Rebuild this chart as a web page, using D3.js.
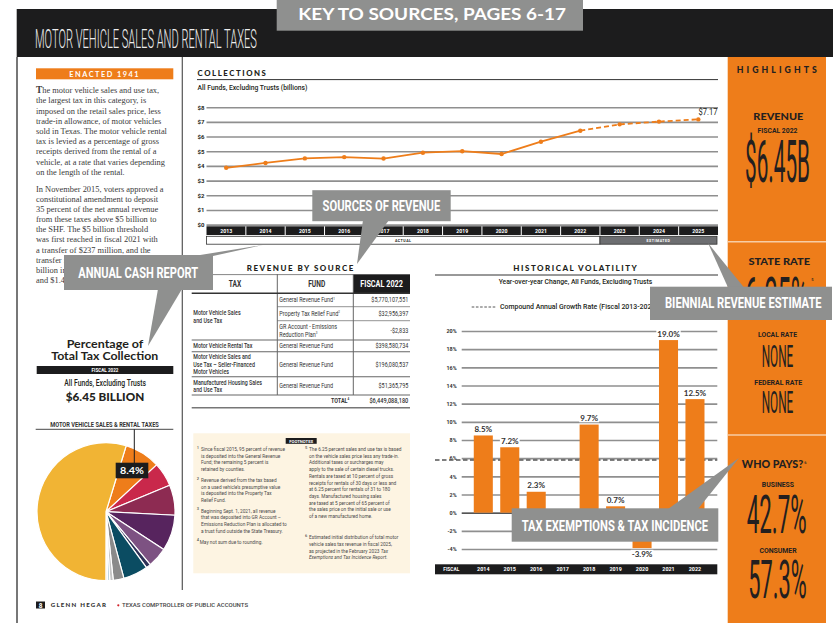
<!DOCTYPE html>
<html>
<head>
<meta charset="utf-8">
<script src="https://cdn.jsdelivr.net/npm/d3@7"></script>
<style>
  body { margin: 0; background: #fff; }
  svg { display: block; }
</style>
</head>
<body>
<div id="page"></div>
<script>
var W = 833, H = 623;
var orange = "#EE7D1A", ink = "#231F20", grey = "#8F908F", gridGrey = "#8f8f8f";

// collections, all funds excluding trusts (billions)
var collYears = ["2013", "2014", "2015", "2016", "2017", "2018", "2019", "2020", "2021", "2022", "2023", "2024", "2025"];
var collValues = [3.87, 4.20, 4.51, 4.60, 4.50, 4.90, 5.00, 4.81, 5.65, 6.40, 6.83, 7.02, 7.17];
var collTicks = [0, 1, 2, 3, 4, 5, 6, 7, 8];
var firstEstimate = "2023";

// historical volatility, year-over-year change (%)
var volYears = ["2014", "2015", "2016", "2017", "2018", "2019", "2020", "2021", "2022"];
var volValues = [8.5, 7.2, 2.3, -1.5, 9.7, 0.7, -3.9, 19.0, 12.5];
var volTicks = [-4, -2, 0, 2, 4, 6, 8, 10, 12, 14, 16, 18, 20];
var cagr = 5.8;

// revenue by source table
var taxNames = [["Motor Vehicle Sales", "and Use Tax"], ["Motor Vehicle Rental Tax"],
  ["Motor Vehicle Sales and", "Use Tax \u2013 Seller-Financed", "Motor Vehicles"],
  ["Manufactured Housing Sales", "and Use Tax"]];
var taxSpan = [3, 1, 1, 1];
var fundNames = [["General Revenue Fund^1"], ["Property Tax Relief Fund^2"],
  ["GR Account - Emissions", "Reduction Plan^3"], ["General Revenue Fund"],
  ["General Revenue Fund"], ["General Revenue Fund"]];
var fundValues = ["$5,770,107,551", "$32,956,397", "-$2,833", "$398,580,734", "$196,080,537", "$51,365,795"];
var totalValue = "$6,449,088,180";

// share of total tax collection, fiscal 2022 (%)
var pieShares = [8.4, 5.6, 7.1, 8.4, 4.7, 1.1, 5.8, 2.5, 0.8, 0.5, 0.4, 54.7];
var pieColors = ["#EE7D1A", "#C9284B", "#8D2B52", "#57245E", "#7D5282", "#2E3258", "#0B4C62",
  "#8A8A8A", "#C4C4C4", "#A9C6D6", "#DADADA", "#F1B434"];

// highlights
var highlights = {revenue: "$6.45B", stateRate: "6.25%", local: "NONE", federal: "NONE", business: "42.7%", consumer: "57.3%"};

var svg = d3.select("#page").append("svg")
  .attr("width", W).attr("height", H)
  .style("background", "#fff");

// small text helper; "^" marks a superscript tail, k squeezes horizontally, w fits a width
function label(g, x, y, str, o) {
  o = o || {};
  var size = o.size || 7;
  var t = g.append("text")
    .attr("x", x).attr("y", y)
    .attr("text-anchor", o.anchor || "start")
    .attr("fill", o.fill || ink)
    .style("font-family", o.font || "Roboto, sans-serif")
    .style("font-size", size + "px")
    .style("font-weight", o.weight || 400);
  if (o.italic) t.style("font-style", "italic");
  if (o.ls) t.style("letter-spacing", o.ls + "px");
  var parts = str.split("^");
  t.append("tspan").text(parts[0]);
  if (parts.length > 1) {
    t.append("tspan").attr("dy", -size * 0.38).style("font-size", (size * 0.55) + "px").text(parts[1]);
  }
  var k = o.k;
  if (o.w) k = o.w / t.node().getComputedTextLength();
  if (k) t.attr("x", 0).attr("y", 0).attr("transform", `translate(${x},${y}) scale(${k},1)`);
  return t;
}

// ---------- page frame ----------
svg.append("rect").attr("x", 16.7).attr("y", 9).attr("width", W - 16.7).attr("height", 48).attr("fill", "#1c1c1d");
label(svg, 35, 48, "MOTOR VEHICLE SALES AND RENTAL TAXES", {size: 25, w: 222, fill: "#EDEDED", weight: 300});

svg.append("line").attr("x1", 17).attr("x2", 17).attr("y1", 57).attr("y2", H).attr("stroke", "#4a4a4a").attr("stroke-width", 1.5);
svg.append("line").attr("x1", 182.3).attr("x2", 182.3).attr("y1", 57).attr("y2", 590).attr("stroke", "#555").attr("stroke-width", 1.2);

// ---------- left column ----------
svg.append("rect").attr("x", 36).attr("y", 68.3).attr("width", 137.3).attr("height", 11).attr("fill", orange);
label(svg, 104.7, 77.3, "ENACTED 1941", {size: 7.5, weight: 700, font: "Lato, sans-serif", fill: "#fff", anchor: "middle", w: 70.7, ls: 1.5});

var para1 = ["he motor vehicle sales and use tax,", "the largest tax in this category, is",
  "imposed on the retail sales price, less", "trade-in allowance, of motor vehicles",
  "sold in Texas. The motor vehicle rental", "tax is levied as a percentage of gross",
  "receipts derived from the rental of a", "vehicle, at a rate that varies depending",
  "on the length of the rental."];
var para2 = ["In November 2015, voters approved a", "constitutional amendment to deposit",
  "35 percent of the net annual revenue", "from these taxes above $5 billion to",
  "the SHF. The $5 billion threshold", "was first reached in fiscal 2021 with",
  "a transfer of $237 million, and the", "transfer is estimated at $1.3",
  "billion in fiscal 2024", "and $1.4 billion in fiscal 2025."];

var para = svg.append("g");
var refLine;
para1.forEach(function(s, i) {
  var t = para.append("text").attr("x", 0).attr("y", 93.3 + i * 10.2)
    .attr("fill", "#3a3a3a").style("font-family", "'Liberation Serif', serif").style("font-size", "8.6px");
  if (i === 0) t.append("tspan").style("font-weight", 700).style("font-size", "9.6px").text("T");
  t.append("tspan").text(s);
  if (i === 7) refLine = t;
});
para2.forEach(function(s, i) {
  para.append("text").attr("x", 0).attr("y", 192 + i * 10.1)
    .attr("fill", "#3a3a3a").style("font-family", "'Liberation Serif', serif").style("font-size", "8.6px")
    .text(s);
});
var kPara = 129 / refLine.node().getComputedTextLength();
para.attr("transform", `translate(36,0) scale(${kPara},1)`);

// pie block
label(svg, 105, 348.3, "Percentage of", {size: 11, weight: 700, font: "Lato, sans-serif", anchor: "middle", w: 76.7});
label(svg, 104.7, 360, "Total Tax Collection", {size: 11, weight: 700, font: "Lato, sans-serif", anchor: "middle", w: 107});
svg.append("rect").attr("x", 36.7).attr("y", 366).attr("width", 136.6).attr("height", 8).attr("fill", "#1c1c1d");
label(svg, 105, 372.3, "FISCAL  2022", {size: 5, weight: 700, fill: "#fff", anchor: "middle", w: 27});
label(svg, 105.2, 386, "All Funds, Excluding Trusts", {size: 8.5, weight: 500, anchor: "middle", w: 82});
label(svg, 105, 400.7, "$6.45 BILLION", {size: 10.5, weight: 900, font: "Lato, sans-serif", anchor: "middle", w: 78.6});
label(svg, 104.5, 427.3, "MOTOR VEHICLE SALES & RENTAL TAXES", {size: 6.5, weight: 700, anchor: "middle", w: 109, fill: "#333"});
svg.append("line").attr("x1", 35.7).attr("x2", 173.3).attr("y1", 429.3).attr("y2", 429.3).attr("stroke", "#333").attr("stroke-width", 0.9);

var pieStart = 17 * Math.PI / 180;
var pie = d3.pie().sort(null).value(d => d).startAngle(pieStart).endAngle(pieStart + 2 * Math.PI);
var arc = d3.arc().innerRadius(0).outerRadius(69);
svg.append("g").attr("transform", "translate(106,511.7)")
  .selectAll("path").data(pie(pieShares)).enter().append("path")
  .attr("d", arc)
  .attr("fill", (d, i) => pieColors[i])
  .attr("stroke", "#fff").attr("stroke-width", 1.2);

svg.append("line").attr("x1", 134.3).attr("x2", 134.3).attr("y1", 429.3).attr("y2", 463).attr("stroke", "#1c1c1d").attr("stroke-width", 1);
svg.append("rect").attr("x", 115.7).attr("y", 462.7).attr("width", 32.6).attr("height", 15.6).attr("fill", "#1c1c1d");
label(svg, 132, 474.3, pieShares[0].toFixed(1) + "%", {size: 9.5, weight: 700, font: "Lato, sans-serif", fill: "#fff", anchor: "middle", w: 24});

// footer
svg.append("rect").attr("x", 36).attr("y", 601.5).attr("width", 9).attr("height", 7).attr("fill", "#1c1c1d");
label(svg, 40.5, 607.6, "8", {size: 6.5, weight: 700, fill: "#fff", anchor: "middle"});
label(svg, 50.7, 607.3, "GLENN HEGAR", {size: 6, weight: 900, font: "Lato, sans-serif", w: 56.6, fill: "#333", ls: 1.2});
svg.append("circle").attr("cx", 118.3).attr("cy", 605.3).attr("r", 1.1).attr("fill", "#D2232A");
label(svg, 122, 607.3, "TEXAS COMPTROLLER OF PUBLIC ACCOUNTS", {size: 6, weight: 500, w: 126.3, fill: "#444"});

// ---------- collections ----------
label(svg, 197.6, 75.5, "COLLECTIONS", {size: 7.5, weight: 900, font: "Lato, sans-serif", w: 70, ls: 1.5});
svg.append("line").attr("x1", 197).attr("x2", 718).attr("y1", 79.6).attr("y2", 79.6).attr("stroke", "#333").attr("stroke-width", 1);
label(svg, 197.6, 90.3, "All Funds, Excluding Trusts (billions)", {size: 7.5, weight: 500, w: 110});

var collX = d3.scaleBand().domain(collYears).range([206.5, 718]);
var collY = d3.scaleLinear().domain([0, 8]).range([224.6, 107.2]);

var cAxis = svg.append("g").attr("transform", "translate(206.5,0)")
  .call(d3.axisLeft(collY).tickValues(collTicks).tickSize(-511.5).tickPadding(2).tickFormat(d => "$" + d));
cAxis.select(".domain").remove();
cAxis.selectAll("line").attr("stroke", gridGrey).attr("stroke-width", 1.6);
cAxis.selectAll("text").attr("fill", ink).style("font-family", "Roboto, sans-serif").style("font-size", "6px").style("font-weight", 700);

// year band
svg.append("rect").attr("x", 206.5).attr("y", 226.3).attr("width", 511.5).attr("height", 8.7).attr("fill", "#1c1c1d");
collYears.forEach(function(yr, i) {
  if (i > 0) svg.append("line").attr("x1", collX(yr)).attr("x2", collX(yr)).attr("y1", 226.3).attr("y2", 235).attr("stroke", "#fff").attr("stroke-width", 1);
  label(svg, collX(yr) + collX.bandwidth() / 2, 232.6, yr, {size: 5.2, weight: 700, fill: "#fff", anchor: "middle"});
});
var estX = collX(firstEstimate);
svg.append("rect").attr("x", 206.5).attr("y", 236.3).attr("width", estX - 206.5).attr("height", 7.9)
  .attr("fill", "#fff").attr("stroke", "#333").attr("stroke-width", 0.8);
svg.append("rect").attr("x", estX).attr("y", 236.3).attr("width", 717 - estX).attr("height", 7.9)
  .attr("fill", "#6d6e71").attr("stroke", "#333").attr("stroke-width", 0.8);
label(svg, (206.5 + estX) / 2, 241.8, "ACTUAL", {size: 3.6, weight: 700, anchor: "middle", ls: 0.5});
label(svg, (estX + 717) / 2, 241.8, "ESTIMATED", {size: 3.6, weight: 700, anchor: "middle", ls: 0.5, fill: "#fff"});

var collPts = collYears.map((yr, i) => ({year: yr, v: collValues[i]}));
var lastActual = collYears.indexOf(firstEstimate) - 1;
var cline = d3.line().x(d => collX(d.year) + collX.bandwidth() / 2).y(d => collY(d.v));
svg.append("path").attr("d", cline(collPts.slice(0, lastActual + 1)))
  .attr("fill", "none").attr("stroke", orange).attr("stroke-width", 1.8);
svg.append("path").attr("d", cline(collPts.slice(lastActual)))
  .attr("fill", "none").attr("stroke", orange).attr("stroke-width", 1.8).attr("stroke-dasharray", "5,3");
svg.selectAll(".cdot").data(collPts).enter().append("circle")
  .attr("cx", d => collX(d.year) + collX.bandwidth() / 2).attr("cy", d => collY(d.v))
  .attr("r", 2.2).attr("fill", orange);
label(svg, 717.5, 115, "$" + collValues[collValues.length - 1].toFixed(2), {size: 8.5, weight: 400, anchor: "end", w: 19});

// ---------- revenue by source table ----------
label(svg, 300.8, 270.7, "REVENUE BY SOURCE", {size: 8, weight: 900, font: "Lato, sans-serif", anchor: "middle", w: 108, ls: 1.5});
var tL = 191.7, tC1 = 277.3, tC2 = 353.3, tR = 410;
var tab = svg.append("g");
tab.append("rect").attr("x", tC2).attr("y", 274.3).attr("width", tR - tC2).attr("height", 19).attr("fill", "#1c1c1d");
tab.append("line").attr("x1", tL).attr("x2", tC2).attr("y1", 274.6).attr("y2", 274.6).attr("stroke", "#666").attr("stroke-width", 0.8);
label(tab, 235, 286.7, "TAX", {size: 8.5, weight: 700, anchor: "middle", k: 0.78, fill: "#333"});
label(tab, 316.7, 286.7, "FUND", {size: 8.5, weight: 700, anchor: "middle", k: 0.78, fill: "#333"});
label(tab, 381.6, 286.7, "FISCAL 2022", {size: 8.5, weight: 700, anchor: "middle", w: 42.7, fill: "#fff"});

var fundBounds = [293.3, 306.7, 320.7, 340, 351.7, 376.7, 395];
[tC1, tC2].forEach(function(x) {
  tab.append("line").attr("x1", x).attr("x2", x).attr("y1", 274.3).attr("y2", 395).attr("stroke", "#555").attr("stroke-width", 0.9);
});
var ti = 0;
taxNames.forEach(function(lines, r) {
  var top = fundBounds[ti], bot = fundBounds[ti + taxSpan[r]];
  var mid = (top + bot) / 2, lh = 7.4;
  lines.forEach(function(s, j) {
    label(tab, 193.3, mid + 2.4 + (j - (lines.length - 1) / 2) * lh, s, {size: 7, weight: 500, k: 0.76, fill: "#333"});
  });
  ti += taxSpan[r];
});
fundNames.forEach(function(lines, r) {
  var mid = (fundBounds[r] + fundBounds[r + 1]) / 2, lh = 7.6;
  lines.forEach(function(s, j) {
    label(tab, 279.3, mid + 2.4 + (j - (lines.length - 1) / 2) * lh, s, {size: 7, weight: 400, k: 0.78, fill: "#333"});
  });
  label(tab, 408.3, mid + 2.4, fundValues[r], {size: 7.2, weight: 400, k: 0.76, anchor: "end", fill: "#333"});
});
fundBounds.forEach(function(y, i) {
  var full = !(i === 1 || i === 2);
  tab.append("line").attr("x1", full ? tL : tC1).attr("x2", tR).attr("y1", y).attr("y2", y)
    .attr("stroke", i === 0 ? "#333" : "#666").attr("stroke-width", i === 0 ? 1.4 : (full ? 1.1 : 0.7));
});
tab.append("line").attr("x1", tL).attr("x2", tR).attr("y1", 407.7).attr("y2", 407.7).attr("stroke", "#777").attr("stroke-width", 1.6);
label(tab, 349.3, 402.7, "TOTAL^4", {size: 7, weight: 700, k: 0.78, anchor: "end", fill: "#333"});
label(tab, 408.3, 402.7, totalValue, {size: 7.4, weight: 500, k: 0.76, anchor: "end", fill: "#333"});

// ---------- footnotes ----------
svg.append("rect").attr("x", 193.3).attr("y", 433.3).attr("width", 216.7).attr("height", 140).attr("fill", "#FDF4E2");
svg.append("rect").attr("x", 285.7).attr("y", 438).attr("width", 31).attr("height", 5.8).attr("fill", "#1c1c1d");
label(svg, 301.2, 442.5, "FOOTNOTES", {size: 4.4, weight: 700, fill: "#fff", anchor: "middle", w: 24});

var notesLeft = [
  {n: "1", y: 451, lines: ["Since fiscal 2015, 95 percent of revenue", "is deposited into the General Revenue", "Fund; the remaining 5 percent is", "retained by counties."]},
  {n: "2", y: 482, lines: ["Revenue derived from the tax based", "on a used vehicle\u2019s presumptive value", "is deposited into the Property Tax", "Relief Fund."]},
  {n: "3", y: 512.6, lines: ["Beginning Sept. 1, 2021, all revenue", "that was deposited into GR Account \u2013", "Emissions Reduction Plan is allocated to", "a trust fund outside the State Treasury."]},
  {n: "4", y: 543.5, lines: ["May not sum due to rounding."]}
];
var notesRight = [
  {n: "5", y: 451, lines: ["The 6.25 percent sales and use tax is based", "on the vehicle sales price less any trade-in.",
    "Additional taxes or surcharges may", "apply to the sale of certain diesel trucks.",
    "Rentals are taxed at 10 percent of gross", "receipts for rentals of 30 days or less and",
    "at 6.25 percent for rentals of 31 to 180", "days. Manufactured housing sales",
    "are taxed at 5 percent of 65 percent of", "the sales price on the initial sale or use",
    "of a new manufactured home."]},
  {n: "6", y: 539.3, lines: ["Estimated initial distribution of total motor", "vehicle sales tax revenue in fiscal 2025,",
    "as projected in the February 2023 *Tax", "*Exemptions and Tax Incidence Report.*"]}
];
function drawNotes(notes, xn, xt) {
  notes.forEach(function(note) {
    label(svg, xn, note.y - 2.2, note.n, {size: 4, weight: 500, fill: "#555"});
    note.lines.forEach(function(s, j) {
      var y = note.y + j * 6.72;
      var t = svg.append("text").attr("x", 0).attr("y", 0)
        .attr("transform", `translate(${note.n === "4" ? xn + 3 : xt},${y}) scale(0.78,1)`)
        .attr("fill", "#4a4a4a").style("font-family", "Roboto, sans-serif").style("font-size", "6.1px");
      s.split("*").forEach(function(seg, k) {
        if (seg) t.append("tspan").style("font-style", k % 2 ? "italic" : "normal").text(seg);
      });
    });
  });
}
drawNotes(notesLeft, 196.7, 201);
drawNotes(notesRight, 305, 309);

// ---------- historical volatility ----------
label(svg, 575.8, 270.7, "HISTORICAL VOLATILITY", {size: 8, weight: 900, font: "Lato, sans-serif", anchor: "middle", w: 125, ls: 1.5});
svg.append("line").attr("x1", 435).attr("x2", 718).attr("y1", 275).attr("y2", 275).attr("stroke", "#333").attr("stroke-width", 1);
label(svg, 575.5, 284.3, "Year-over-year Change, All Funds, Excluding Trusts", {size: 7.6, weight: 500, anchor: "middle", w: 154});
svg.append("line").attr("x1", 471.7).attr("x2", 496.7).attr("y1", 307).attr("y2", 307)
  .attr("stroke", "#444").attr("stroke-width", 0.9).attr("stroke-dasharray", "2.6,1.6");
label(svg, 500, 309.3, "Compound Annual Growth Rate (Fiscal 2013-2022)", {size: 7.6, weight: 500, w: 158});

var volX = d3.scaleBand().domain(volYears).range([470.07, 708.2]).paddingInner(0.28).paddingOuter(0.14);
var volY = d3.scaleLinear().domain([-4, 20]).range([549, 331]);

var vAxis = svg.append("g").attr("transform", "translate(461.7,0)")
  .call(d3.axisLeft(volY).tickValues(volTicks).tickSize(-255.6).tickPadding(5).tickFormat(d => d + "%"));
vAxis.select(".domain").remove();
vAxis.selectAll("line").attr("stroke", d => d === 0 ? "#1c1c1d" : gridGrey).attr("stroke-width", d => d === 0 ? 1.4 : 1.6);
vAxis.selectAll("text").attr("fill", "#333").style("font-family", "Roboto, sans-serif").style("font-size", "5.4px").style("font-weight", 700);

svg.append("line").attr("x1", 435).attr("x2", 717.3).attr("y1", volY(cagr)).attr("y2", volY(cagr))
  .attr("stroke", "#555").attr("stroke-width", 1.3).attr("stroke-dasharray", "4.5,2.5");

var vol = volYears.map((yr, i) => ({year: yr, v: volValues[i]}));
svg.selectAll(".vbar").data(vol).enter().append("rect")
  .attr("x", d => volX(d.year)).attr("width", volX.bandwidth())
  .attr("y", d => Math.min(volY(d.v), volY(0)))
  .attr("height", d => Math.abs(volY(d.v) - volY(0)))
  .attr("fill", orange);

vol.forEach(function(d) {
  var cx = volX(d.year) + volX.bandwidth() / 2;
  var y = d.v >= 0 ? volY(d.v) - 3.5 : volY(d.v) + 8.5;
  var t = label(svg, cx, y, d.v.toFixed(1) + "%", {size: 8, weight: 700, font: "Lato, sans-serif", anchor: "middle", fill: "#333"});
  var w = t.node().getComputedTextLength();
  svg.insert("rect", function() { return t.node(); })
    .attr("x", cx - w / 2 - 1).attr("y", y - 6.8).attr("width", w + 2).attr("height", 8).attr("fill", "#fff");
});

svg.append("rect").attr("x", 435).attr("y", 564.3).attr("width", 282.3).attr("height", 10).attr("fill", "#1c1c1d");
label(svg, 443.3, 571.3, "FISCAL", {size: 5.4, weight: 700, fill: "#fff", w: 16});
volYears.forEach(function(yr) {
  label(svg, volX(yr) + volX.bandwidth() / 2, 571.3, yr, {size: 5.4, weight: 700, fill: "#fff", anchor: "middle"});
});

// ---------- highlights column ----------
var hl = svg.append("g");
hl.append("rect").attr("x", 727.7).attr("y", 57).attr("width", 98.3).attr("height", H - 57).attr("fill", orange);
[241.7, 435].forEach(function(y) {
  hl.append("line").attr("x1", 727.7).attr("x2", 826).attr("y1", y).attr("y2", y).attr("stroke", "#F7CDA5").attr("stroke-width", 1.4);
});
var hcx = 777.5;
label(hl, hcx + 0.8, 72.7, "HIGHLIGHTS", {size: 8.5, weight: 900, font: "Lato, sans-serif", anchor: "middle", w: 83.3, ls: 3});
label(hl, hcx + 0.8, 120, "REVENUE", {size: 9.5, weight: 900, font: "Lato, sans-serif", anchor: "middle", w: 50});
label(hl, hcx, 132.7, "FISCAL 2022", {size: 7, weight: 700, anchor: "middle", w: 40});
label(hl, hcx, 181.7, highlights.revenue, {size: 60, weight: 400, anchor: "middle", w: 65});
label(hl, 779.2, 265, "STATE RATE", {size: 9.5, weight: 900, font: "Lato, sans-serif", anchor: "middle", w: 61.7});
label(hl, 776.5, 319, highlights.stateRate, {size: 60, weight: 400, anchor: "middle", w: 63});
label(hl, 812.5, 281, "5", {size: 4, weight: 500, anchor: "middle"});
label(hl, hcx, 337.3, "LOCAL RATE", {size: 7, weight: 700, anchor: "middle", w: 39});
label(hl, hcx, 366.7, highlights.local, {size: 30.5, weight: 400, anchor: "middle", w: 31.6});
label(hl, 778.3, 385, "FEDERAL RATE", {size: 7, weight: 700, anchor: "middle", w: 48});
label(hl, hcx, 413.3, highlights.federal, {size: 30.5, weight: 400, anchor: "middle", w: 31.6});
label(hl, 772.5, 468.3, "WHO PAYS?", {size: 10.5, weight: 900, font: "Lato, sans-serif", anchor: "middle", w: 61.5});
label(hl, 805.5, 463.5, "6", {size: 4, weight: 500, anchor: "middle"});
label(hl, hcx + 0.4, 486.7, "BUSINESS", {size: 7, weight: 700, anchor: "middle", w: 32.3});
label(hl, 776.7, 533.3, highlights.business, {size: 54, weight: 400, anchor: "middle", w: 60});
label(hl, 778, 553.3, "CONSUMER", {size: 7, weight: 700, anchor: "middle", w: 37.3});
label(hl, 777.5, 598.3, highlights.consumer, {size: 54, weight: 400, anchor: "middle", w: 58.4});

// ---------- callouts ----------
var co = svg.append("g");
co.append("rect").attr("x", 276.7).attr("y", 0).attr("width", 306.3).attr("height", 30.7).attr("fill", grey);
label(co, 298.3, 20, "KEY TO SOURCES, PAGES 6-17", {size: 17.5, weight: 700, font: "Lato, sans-serif", fill: "#fff", w: 268});

function callout(box, tip, text, tx, ty, tw) {
  co.append("polygon").attr("points", tip.map(p => p.join(",")).join(" ")).attr("fill", grey);
  co.append("rect").attr("x", box[0]).attr("y", box[1]).attr("width", box[2] - box[0]).attr("height", box[3] - box[1]).attr("fill", grey);
  label(co, tx, ty, text, {size: 14.5, weight: 700, fill: "#fff", w: tw});
}
callout([312.3, 190.2, 450.7, 221.2], [[363, 220], [389, 220], [357, 264]], "SOURCES OF REVENUE", 322.6, 210.8, 117.8);
co.append("polygon").attr("points", "194,256 213,256 263,245").attr("fill", grey);
callout([64, 255, 213, 290], [[158, 289], [182, 289], [148, 346]], "ANNUAL CASH REPORT", 78.3, 278.3, 120);
callout([650, 286.7, 832, 320], [[708, 243], [728, 287.5], [744, 287.5]], "BIENNIAL REVENUE ESTIMATE", 665, 308.3, 156.7);
callout([511.7, 508.3, 718.3, 541.7], [[668, 509], [698, 509], [739, 458]], "TAX EXEMPTIONS & TAX INCIDENCE", 521.7, 531, 186.6);
</script>
</body>
</html>
